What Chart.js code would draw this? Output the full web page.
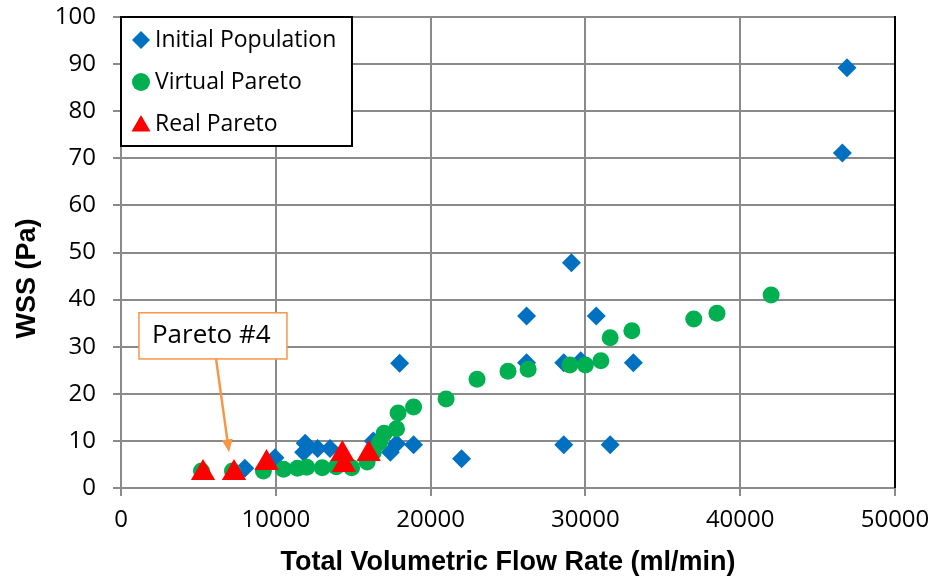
<!DOCTYPE html>
<html lang="en">
<head>
<meta charset="UTF-8">
<title>WSS vs Total Volumetric Flow Rate</title>
<script src="https://cdn.jsdelivr.net/npm/chart.js"></script>
<style>
  body { margin: 0; background: #fff; }
  #wrap { width: 936px; height: 584px; }
</style>
</head>
<body>
<div id="wrap"><canvas id="chart" width="936" height="584"></canvas></div>
<script>
// values (flow rate ml/min, WSS Pa)
const initialPopulation = [
  [8000, 4.2], [9950, 6.4], [11900, 9.5], [11800, 7.6], [12700, 8.4], [13500, 8.4],
  [16300, 10.0], [17400, 7.6], [17800, 9.4], [18900, 9.2], [18000, 26.5], [22000, 6.2],
  [26200, 36.5], [26200, 26.6], [28600, 26.6], [29700, 27.0], [28600, 9.2], [29100, 47.8],
  [30700, 36.5], [31600, 9.2], [33100, 26.6], [46600, 71.1], [46900, 89.2]
];
const virtualPareto = [
  [5200, 3.6], [7200, 3.6], [9200, 3.6], [10500, 4.0], [11400, 4.2], [12000, 4.4],
  [13000, 4.3], [13900, 4.5], [14900, 4.3], [15900, 5.5], [16300, 7.6], [16700, 9.6],
  [17000, 11.6], [17800, 12.6], [17900, 15.9], [18900, 17.2], [21000, 18.9], [23000, 23.1],
  [25000, 24.8], [26300, 25.2], [29000, 26.1], [30000, 26.1], [31000, 27.0], [31600, 31.9],
  [33000, 33.4], [37000, 35.9], [38500, 37.1], [42000, 41.0]
];
const realPareto = [
  [5300, 3.2], [7300, 3.2], [9400, 5.3], [14300, 7.2], [14400, 4.9], [16000, 7.2]
];

const seriesNames = ['Initial Population', 'Virtual Pareto', 'Real Pareto'];
const seriesColors = ['#0070C0', '#00B050', '#FF0000'];
const seriesShapes = ['rectRot', 'circle', 'triangle'];

const xMin = 0, xMax = 50000, xStep = 10000;
const yMin = 0, yMax = 100, yStep = 10;
const yTitle = 'WSS (Pa)';

// callout "Pareto #4" in data units
const calloutText = 'Pareto #4';
const calloutBox = { x1: 1160, x2: 10720, yTop: 37.2, yBottom: 27.4 };
const calloutArrow = { fromX: 6140, fromY: 27.4, toX: 6980, toY: 7.6 };

const toPoints = arr => arr.map(p => ({ x: p[0], y: p[1] }));

function drawMarker(ctx, shape, x, y, r) {
  ctx.beginPath();
  if (shape === 'rectRot') {
    ctx.moveTo(x - r, y); ctx.lineTo(x, y - r); ctx.lineTo(x + r, y); ctx.lineTo(x, y + r);
  } else if (shape === 'circle') {
    ctx.arc(x, y, r, 0, Math.PI * 2);
  } else {
    ctx.moveTo(x, y - r); ctx.lineTo(x + r * 0.866, y + r * 0.5); ctx.lineTo(x - r * 0.866, y + r * 0.5);
  }
  ctx.closePath();
  ctx.fill();
}

const overlay = {
  id: 'overlay',
  afterDraw(chart) {
    const ctx = chart.ctx;
    const a = chart.chartArea;
    const xs = chart.scales.x, ys = chart.scales.y;
    ctx.save();

    // y axis title (sits a bit below the axis middle, like the original)
    ctx.save();
    ctx.translate(28, a.top + (a.bottom - a.top) * 0.555);
    ctx.rotate(-Math.PI / 2);
    ctx.fillStyle = '#000';
    ctx.font = 'bold 27px "Liberation Sans"';
    ctx.textAlign = 'center';
    ctx.textBaseline = 'middle';
    ctx.fillText(yTitle, 0, 0);
    ctx.restore();

    // right border of plot area
    ctx.strokeStyle = '#000';
    ctx.lineWidth = 2;
    ctx.beginPath();
    ctx.moveTo(a.right, a.top - 1);
    ctx.lineTo(a.right, a.bottom);
    ctx.stroke();

    // legend box
    const lx = a.left, ly = a.top, lw = 231, lh = 129;
    ctx.fillStyle = '#fff';
    ctx.fillRect(lx, ly, lw, lh);
    ctx.strokeStyle = '#000';
    ctx.lineWidth = 2;
    ctx.strokeRect(lx, ly, lw, lh);
    ctx.font = '23px "Open Sans"';
    ctx.textBaseline = 'middle';
    seriesNames.forEach((name, i) => {
      const cy = ly + 23 + i * 42;
      ctx.fillStyle = seriesColors[i];
      const r = seriesShapes[i] === 'triangle' ? 11 : 9;
      drawMarker(ctx, seriesShapes[i], lx + 20, seriesShapes[i] === 'triangle' ? cy + 2 : cy, r);
      ctx.fillStyle = '#000';
      ctx.fillText(name, lx + 34, cy);
    });

    // callout with arrow
    const bx1 = xs.getPixelForValue(calloutBox.x1), bx2 = xs.getPixelForValue(calloutBox.x2);
    const by1 = ys.getPixelForValue(calloutBox.yTop), by2 = ys.getPixelForValue(calloutBox.yBottom);
    ctx.fillStyle = '#fff';
    ctx.fillRect(bx1, by1, bx2 - bx1, by2 - by1);
    ctx.strokeStyle = '#F79646';
    ctx.lineWidth = 1.5;
    ctx.strokeRect(bx1, by1, bx2 - bx1, by2 - by1);
    ctx.fillStyle = '#000';
    ctx.font = '26px "Open Sans"';
    ctx.textBaseline = 'middle';
    ctx.fillText(calloutText, bx1 + 13, (by1 + by2) / 2);

    const ax1 = xs.getPixelForValue(calloutArrow.fromX), ay1 = ys.getPixelForValue(calloutArrow.fromY);
    const ax2 = xs.getPixelForValue(calloutArrow.toX), ay2 = ys.getPixelForValue(calloutArrow.toY);
    const ang = Math.atan2(ay2 - ay1, ax2 - ax1);
    const head = 14;
    ctx.strokeStyle = '#F79646';
    ctx.lineWidth = 2.5;
    ctx.beginPath();
    ctx.moveTo(ax1, ay1);
    ctx.lineTo(ax2 - Math.cos(ang) * head * 0.8, ay2 - Math.sin(ang) * head * 0.8);
    ctx.stroke();
    ctx.fillStyle = '#F79646';
    ctx.beginPath();
    ctx.moveTo(ax2, ay2);
    ctx.lineTo(ax2 - head * Math.cos(ang - 0.4), ay2 - head * Math.sin(ang - 0.4));
    ctx.lineTo(ax2 - head * Math.cos(ang + 0.4), ay2 - head * Math.sin(ang + 0.4));
    ctx.closePath();
    ctx.fill();

    ctx.restore();
  }
};

const gridStyle = { color: '#8a8a8a', lineWidth: 2, tickLength: 8, tickColor: '#8a8a8a' };

new Chart(document.getElementById('chart').getContext('2d'), {
  type: 'scatter',
  data: {
    datasets: [
      { label: seriesNames[2], data: toPoints(realPareto), order: 1,
        pointStyle: seriesShapes[2], pointRadius: 14, pointHoverRadius: 14,
        backgroundColor: seriesColors[2], borderWidth: 0 },
      { label: seriesNames[1], data: toPoints(virtualPareto), order: 2,
        pointStyle: seriesShapes[1], pointRadius: 8.5, pointHoverRadius: 8.5,
        backgroundColor: seriesColors[1], borderWidth: 0 },
      { label: seriesNames[0], data: toPoints(initialPopulation), order: 3,
        pointStyle: seriesShapes[0], pointRadius: 9.5, pointHoverRadius: 9.5,
        backgroundColor: seriesColors[0], borderWidth: 0 }
    ]
  },
  options: {
    responsive: false,
    animation: false,
    layout: { padding: { top: 17, right: 41, left: 0, bottom: 0 } },
    plugins: { legend: { display: false }, tooltip: { enabled: false } },
    scales: {
      x: {
        type: 'linear', min: xMin, max: xMax,
        ticks: { stepSize: xStep, color: '#000', padding: 10, font: { family: 'Open Sans', size: 24 }, maxRotation: 0,
          callback: v => String(v) },
        grid: gridStyle,
        border: { color: '#8a8a8a', width: 2 },
        title: { display: true, text: 'Total Volumetric Flow Rate (ml/min)', color: '#000',
          font: { family: 'Liberation Sans', size: 27, weight: 'bold' }, padding: { top: 0, bottom: 5 } },
        afterFit(scale) { scale.height = 96; scale.paddingLeft = 0; scale.paddingRight = 0; }
      },
      y: {
        min: yMin, max: yMax,
        ticks: { stepSize: yStep, color: '#000', padding: 17, font: { family: 'Open Sans', size: 24 } },
        grid: gridStyle,
        border: { color: '#8a8a8a', width: 2 },
        title: { display: false },
        afterFit(scale) { scale.width = 121; scale.paddingTop = 0; scale.paddingBottom = 0; }
      }
    }
  },
  plugins: [overlay]
});
</script>
</body>
</html>
